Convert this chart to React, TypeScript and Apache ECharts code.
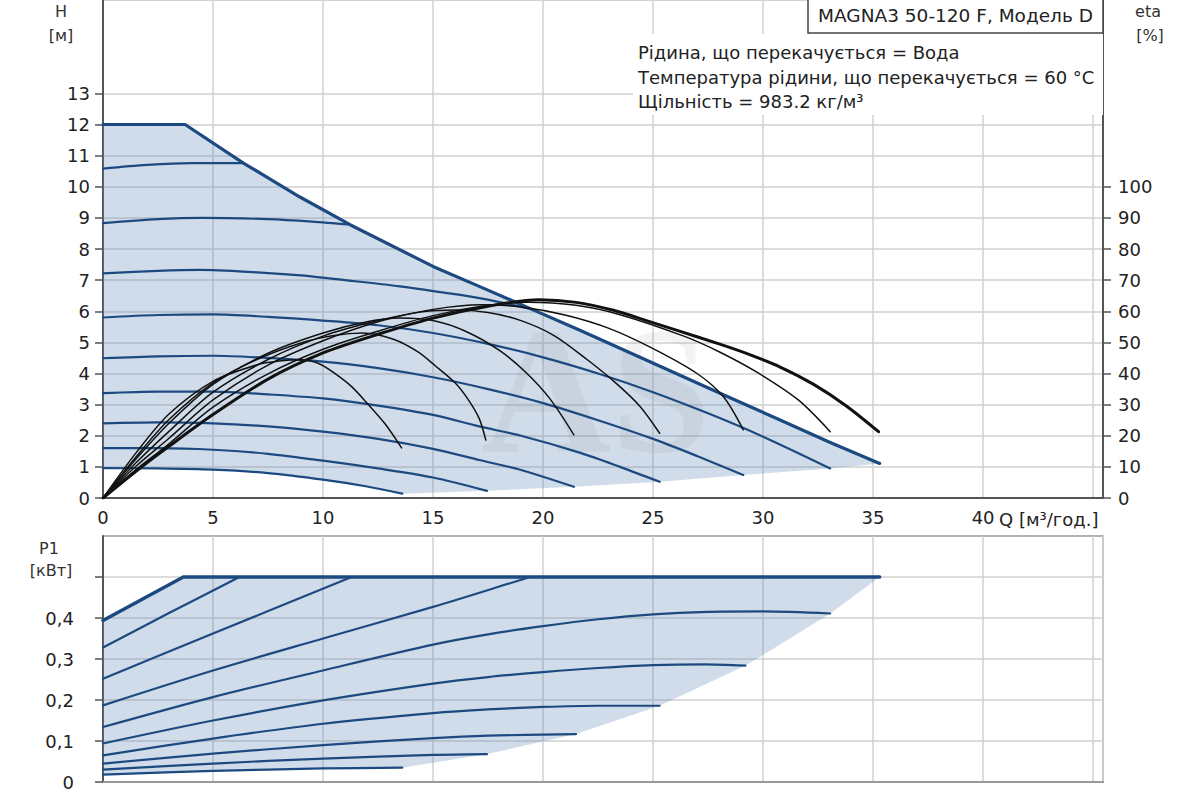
import React, { useEffect, useRef } from "react";
import * as echarts from "echarts";

// ---------- axis ticks / labels ----------
const qLabels = [0, 5, 10, 15, 20, 25, 30, 35, 40];
const hLabels = [0, 1, 2, 3, 4, 5, 6, 7, 8, 9, 10, 11, 12, 13];
const etaLabels = [0, 10, 20, 30, 40, 50, 60, 70, 80, 90, 100];
const pLabels = [0, 0.1, 0.2, 0.3, 0.4];
const pTicks = [0, 0.1, 0.2, 0.3, 0.4, 0.5];

// ---------- head curves H [m] vs Q [m3/h] ----------
const headMax = [[0, 12], [3.73, 12], [6.38, 10.76], [8.95, 9.67], [11.23, 8.78], [15, 7.44], [17.1, 6.8], [18.5, 6.37], [19.5, 6.06], [21.7, 5.38], [24, 4.65], [26.2, 3.95], [28.5, 3.22], [30.8, 2.5], [33, 1.8], [35.3, 1.11]];
const headA = [[0, 10.58], [2, 10.7], [4, 10.76], [6.38, 10.76]];
const headB = [[0, 8.83], [2.5, 8.96], [4.5, 9.0], [7.5, 8.96], [9.5, 8.88], [11.23, 8.78]];
const headC = [[0, 7.22], [2.5, 7.3], [4.4, 7.33], [7, 7.25], [9, 7.15], [11, 7.0], [13.5, 6.8], [15.5, 6.6], [17.3, 6.4], [19.5, 6.06]];
const headD = [[0, 5.8], [2.5, 5.88], [5, 5.9], [7.5, 5.82], [10, 5.7], [12.5, 5.55], [15, 5.3], [17.5, 4.95], [20, 4.52], [22.5, 4.0], [25, 3.4], [27.5, 2.72], [30, 1.97], [33.05, 0.95]];
const headE = [[0, 4.49], [2.5, 4.55], [5, 4.57], [7.5, 4.5], [10, 4.38], [12.5, 4.17], [15, 3.88], [17.5, 3.5], [20, 3.05], [22.5, 2.5], [25, 1.9], [27, 1.35], [29.1, 0.74]];
const headF = [[0, 3.37], [2.5, 3.42], [5, 3.42], [7.5, 3.33], [10, 3.2], [12.5, 2.97], [15, 2.67], [17.1, 2.3], [19, 2.0], [21.7, 1.45], [23.5, 1.0], [25.3, 0.52]];
const headG = [[0, 2.4], [2.5, 2.43], [5, 2.4], [7.5, 2.3], [10, 2.13], [12.5, 1.9], [15, 1.58], [17.1, 1.22], [19, 0.9], [21.4, 0.36]];
const headH = [[0, 1.6], [2.5, 1.6], [5, 1.55], [7.5, 1.42], [10, 1.2], [12.5, 0.95], [15, 0.66], [17.45, 0.23]];
const headI = [[0, 0.96], [2.5, 0.95], [5, 0.91], [7.5, 0.8], [10, 0.59], [12, 0.37], [13.6, 0.14]];
const headMinEdge = [[35.3, 1.11], [33.05, 0.95], [29.1, 0.74], [25.3, 0.52], [21.4, 0.36], [17.45, 0.23], [13.6, 0.14]];

// ---------- efficiency curves eta [%] vs Q ----------
const etaMax = [[0, 0], [1.5, 8.6], [3, 16.6], [5, 26.8], [7.5, 38.2], [10, 46.6], [12.5, 52.6], [15, 57.8], [17.5, 61.6], [19.8, 63.7], [21.5, 62.85], [23.2, 60.3], [24.7, 57.0], [26.2, 53.6], [28, 49.5], [29.3, 46.3], [30.8, 42], [32.3, 36.5], [33.8, 29.5], [35.25, 21.3]];
const etaD = [[0, 0], [1.5, 9.1], [3, 17.4], [5, 29.2], [7.5, 39.9], [10, 47.8], [12.5, 53.6], [15, 58.6], [17.5, 61.9], [19.3, 62.9], [21.5, 61.9], [23.5, 58.9], [26.4, 52], [28, 47], [29.7, 40.5], [31.6, 31.5], [33.05, 21.3]];
const etaE = [[0, 0], [1.5, 10.2], [3, 19.2], [5, 31.5], [7.5, 42.7], [10, 50.5], [12.5, 56.6], [15, 60.6], [17.2, 62.1], [19, 61.4], [21, 58.8], [23, 54.5], [25, 48], [27, 40], [28.2, 32.5], [29.1, 21.9]];
const etaF = [[0, 0], [1.5, 11.3], [3, 21.4], [5, 34], [7.5, 44.5], [10, 52], [12.5, 57], [14.5, 59.8], [16, 60.4], [17.5, 59.6], [19, 57], [20.5, 52.2], [22, 44.5], [23.3, 37], [24.4, 29.5], [25.3, 20.8]];
const etaG = [[0, 0], [1.5, 12.5], [3, 24], [5, 36.5], [7.5, 46.5], [10, 53], [12, 56.6], [13.5, 57.8], [15, 57], [16.5, 53.5], [18, 47.5], [19.2, 40.5], [20.3, 32], [21.4, 20.3]];
const etaH = [[0, 0], [1.5, 13.2], [3, 25.2], [5, 37], [7, 44.5], [9, 49.8], [10.5, 52.2], [11.8, 53], [13.2, 51], [14.3, 47], [15.1, 42.5], [16, 37], [16.6, 31.6], [17.1, 25.5], [17.4, 18.6]];
const etaI = [[0, 0], [1.5, 14.5], [3, 27], [5, 37.5], [7, 42.8], [8, 44], [9, 44.4], [9.8, 43.2], [10.5, 40.2], [11.3, 35.8], [12, 30.5], [12.8, 24], [13.57, 16.1]];

// ---------- power curves P1 [kW] vs Q ----------
const powMax = [[0, 0.394], [3.65, 0.5], [35.3, 0.5]];
const powA = [[0, 0.328], [3, 0.412], [6.2, 0.5]];
const powB = [[0, 0.252], [5, 0.362], [11.3, 0.5]];
const powC = [[0, 0.187], [5, 0.272], [10, 0.35], [15, 0.427], [19.4, 0.5]];
const powD = [[0, 0.134], [5, 0.207], [10, 0.272], [15, 0.335], [17.5, 0.36], [20, 0.38], [22.5, 0.397], [25, 0.409], [27.5, 0.415], [30, 0.416], [33.05, 0.411]];
const powE = [[0, 0.094], [5, 0.15], [10, 0.199], [15, 0.24], [17.5, 0.256], [20, 0.268], [22.5, 0.278], [25, 0.285], [27.3, 0.287], [29.2, 0.284]];
const powF = [[0, 0.065], [5, 0.106], [10, 0.142], [15, 0.168], [17.5, 0.177], [20, 0.183], [22.5, 0.186], [25.3, 0.186]];
const powG = [[0, 0.045], [5, 0.069], [10, 0.09], [15, 0.107], [17.5, 0.113], [21.5, 0.117]];
const powH = [[0, 0.03], [5, 0.045], [10, 0.057], [15, 0.066], [17.45, 0.068]];
const powI = [[0, 0.018], [5, 0.027], [10, 0.033], [13.6, 0.035]];
const powMinEdge = [[35.3, 0.5], [33.05, 0.411], [30, 0.31], [29.2, 0.284], [25.3, 0.186], [21.5, 0.117], [17.45, 0.068], [13.6, 0.035]];

// ---------- texts ----------
const titleText = "MAGNA3 50-120 F, Модель D";
const infoLines = [
  "Рідина, що перекачується = Вода",
  "Температура рідини, що перекачується = 60 °C",
  "Щільність = 983.2 кг/м³",
];

const FONT = '"DejaVu Sans", Verdana, sans-serif';
const BLUE = "#1c4a80";
const FILL = "rgba(100,140,185,0.3)";
const GRID = "#d0d0d0";
const AXIS = "#555";
const TXT = "#222";

const topFill = [...headMax, ...headMinEdge.slice(1), ...headI.slice(0, -1).reverse()];
const botFill = [...powMax, ...powMinEdge.slice(1), ...powI.slice(0, -1).reverse()];

function fillSeries(points: number[][], xi: number, yi: number) {
  return {
    type: "custom",
    xAxisIndex: xi,
    yAxisIndex: yi,
    silent: true,
    z: 1,
    data: points,
    encode: { x: 0, y: 1 },
    renderItem: (params: any, api: any) => {
      if (params.dataIndex !== 0) return { type: "group", children: [] };
      return {
        type: "polygon",
        shape: { points: points.map((p) => api.coord(p)) },
        style: { fill: FILL, stroke: "none" },
      };
    },
  };
}

function lineSeries(data: number[][], xi: number, yi: number, color: string, width: number, smooth: number | boolean, z: number) {
  return {
    type: "line",
    xAxisIndex: xi,
    yAxisIndex: yi,
    data,
    symbol: "none",
    showSymbol: false,
    smooth,
    silent: true,
    z,
    lineStyle: { color, width, cap: "round", join: "round" },
  };
}

export default function App() {
  const ref = useRef<HTMLDivElement>(null);
  useEffect(() => {
    if (!ref.current) return;
    const chart = echarts.init(ref.current, undefined, { renderer: "svg" });
    const labelStyle = { fontFamily: FONT, fontSize: 18, color: TXT };
    const option: any = {
      animation: false,
      backgroundColor: "#ffffff",
      textStyle: { fontFamily: FONT },
      grid: [
        { left: 103, top: 0, width: 1000, height: 498, show: true, borderColor: "#c4c4c4", borderWidth: 1.5, backgroundColor: "transparent" },
        { left: 103, top: 536, width: 1000, height: 246, show: true, borderColor: "#9a9a9a", borderWidth: 1.5, backgroundColor: "transparent" },
      ],
      xAxis: [
        {
          type: "value", gridIndex: 0, min: 0, max: 45.45, interval: 5,
          axisLine: { show: true, onZero: false, lineStyle: { color: AXIS, width: 2 } },
          axisTick: { show: false },
          axisLabel: { ...labelStyle, customValues: qLabels, margin: 10 },
          splitLine: { show: true, lineStyle: { color: GRID, width: 1.5 } },
        },
        {
          type: "value", gridIndex: 1, min: 0, max: 45.45, interval: 5,
          axisLine: { show: true, onZero: false, lineStyle: { color: "#9a9a9a", width: 2 } },
          axisTick: { show: false },
          axisLabel: { show: false },
          splitLine: { show: true, lineStyle: { color: GRID, width: 1.5 } },
        },
      ],
      yAxis: [
        {
          type: "value", gridIndex: 0, min: 0, max: 16, interval: 1,
          axisLine: { show: true, lineStyle: { color: AXIS, width: 2 } },
          axisTick: { show: true, customValues: hLabels, length: 8, lineStyle: { color: AXIS, width: 1.5 } },
          axisLabel: { ...labelStyle, customValues: hLabels, margin: 13 },
          splitLine: { show: true, lineStyle: { color: GRID, width: 1.5 } },
        },
        {
          type: "value", gridIndex: 0, position: "right", min: 0, max: 160, interval: 10,
          axisLine: { show: true, lineStyle: { color: AXIS, width: 2 } },
          axisTick: { show: true, customValues: etaLabels, length: 8, lineStyle: { color: AXIS, width: 1.5 } },
          axisLabel: { ...labelStyle, customValues: etaLabels, margin: 15 },
          splitLine: { show: false },
        },
        {
          type: "value", gridIndex: 1, min: 0, max: 0.6, interval: 0.1,
          axisLine: { show: true, lineStyle: { color: AXIS, width: 2 } },
          axisTick: { show: true, customValues: pTicks, length: 8, lineStyle: { color: AXIS, width: 1.5 } },
          axisLabel: {
            ...labelStyle, customValues: pLabels, margin: 29,
            formatter: (v: number) => (v === 0 ? "0" : v.toFixed(1).replace(".", ",")),
          },
          splitLine: { show: true, lineStyle: { color: GRID, width: 1.5 } },
        },
      ],
      series: [
        fillSeries(topFill, 0, 0),
        fillSeries(botFill, 1, 2),
        // head curves
        lineSeries(headA, 0, 0, BLUE, 2.2, 0.3, 3),
        lineSeries(headB, 0, 0, BLUE, 2.2, 0.3, 3),
        lineSeries(headC, 0, 0, BLUE, 2.2, 0.3, 3),
        lineSeries(headD, 0, 0, BLUE, 2.2, 0.3, 3),
        lineSeries(headE, 0, 0, BLUE, 2.2, 0.3, 3),
        lineSeries(headF, 0, 0, BLUE, 2.2, 0.3, 3),
        lineSeries(headG, 0, 0, BLUE, 2.2, 0.3, 3),
        lineSeries(headH, 0, 0, BLUE, 2.2, 0.3, 3),
        lineSeries(headI, 0, 0, BLUE, 2.2, 0.3, 3),
        lineSeries(headMax, 0, 0, BLUE, 3.2, false, 3),
        // efficiency curves
        lineSeries(etaD, 0, 1, "#111", 1.5, 0.3, 4),
        lineSeries(etaE, 0, 1, "#111", 1.5, 0.3, 4),
        lineSeries(etaF, 0, 1, "#111", 1.5, 0.3, 4),
        lineSeries(etaG, 0, 1, "#111", 1.5, 0.3, 4),
        lineSeries(etaH, 0, 1, "#111", 1.5, 0.3, 4),
        lineSeries(etaI, 0, 1, "#111", 1.5, 0.3, 4),
        lineSeries(etaMax, 0, 1, "#111", 3, 0.3, 4),
        // power curves
        lineSeries(powA, 1, 2, BLUE, 2.2, 0.3, 3),
        lineSeries(powB, 1, 2, BLUE, 2.2, 0.3, 3),
        lineSeries(powC, 1, 2, BLUE, 2.2, 0.3, 3),
        lineSeries(powD, 1, 2, BLUE, 2.2, 0.3, 3),
        lineSeries(powE, 1, 2, BLUE, 2.2, 0.3, 3),
        lineSeries(powF, 1, 2, BLUE, 2.2, 0.3, 3),
        lineSeries(powG, 1, 2, BLUE, 2.2, 0.3, 3),
        lineSeries(powH, 1, 2, BLUE, 2.2, 0.3, 3),
        lineSeries(powI, 1, 2, BLUE, 2.2, 0.3, 3),
        lineSeries(powMax, 1, 2, BLUE, 3.5, false, 3),
      ],
      graphic: [
        {
          type: "text", z: 2, silent: true, x: 596, y: 390,
          style: { text: "AS", font: 'bold 180px "Liberation Serif"', fill: "rgba(120,120,120,0.09)", align: "center", verticalAlign: "middle" },
        },
        { type: "rect", z: 10, silent: true, shape: { x: 633, y: 34, width: 470, height: 81 }, style: { fill: "#ffffff" } },
        { type: "rect", z: 10, silent: true, shape: { x: 808, y: -1, width: 295, height: 34 }, style: { fill: "#ffffff", stroke: "#444", lineWidth: 1.5 } },
        { type: "text", z: 11, silent: true, x: 955.5, y: 15.5, style: { text: titleText, font: `18.5px ${FONT}`, fill: TXT, align: "center", verticalAlign: "middle" } },
        ...infoLines.map((t, i) => ({
          type: "text", z: 11, silent: true, x: 638, y: [52, 77.5, 101][i],
          style: { text: t, font: `18px ${FONT}`, fill: TXT, align: "left", verticalAlign: "middle" },
        })),
        { type: "text", z: 11, silent: true, x: 999, y: 519, style: { text: "Q [м³/год.]", font: `18px ${FONT}`, fill: TXT, align: "left", verticalAlign: "middle" } },
        { type: "text", z: 11, silent: true, x: 61, y: 11, style: { text: "H", font: `16px ${FONT}`, fill: "#333", align: "center", verticalAlign: "middle" } },
        { type: "text", z: 11, silent: true, x: 61, y: 35, style: { text: "[м]", font: `16px ${FONT}`, fill: "#333", align: "center", verticalAlign: "middle" } },
        { type: "text", z: 11, silent: true, x: 1148, y: 11, style: { text: "eta", font: `16px ${FONT}`, fill: "#333", align: "center", verticalAlign: "middle" } },
        { type: "text", z: 11, silent: true, x: 1150, y: 35, style: { text: "[%]", font: `16px ${FONT}`, fill: "#333", align: "center", verticalAlign: "middle" } },
        { type: "text", z: 11, silent: true, x: 49, y: 548, style: { text: "P1", font: `16px ${FONT}`, fill: "#333", align: "center", verticalAlign: "middle" } },
        { type: "text", z: 11, silent: true, x: 51, y: 570, style: { text: "[кВт]", font: `16px ${FONT}`, fill: "#333", align: "center", verticalAlign: "middle" } },
      ],
    };
    chart.setOption(option);
    return () => chart.dispose();
  }, []);
  return (
    <div
      ref={ref}
      style={{ position: "fixed", left: 0, top: 0, width: 1200, height: 800, background: "#fff" }}
    />
  );
}
